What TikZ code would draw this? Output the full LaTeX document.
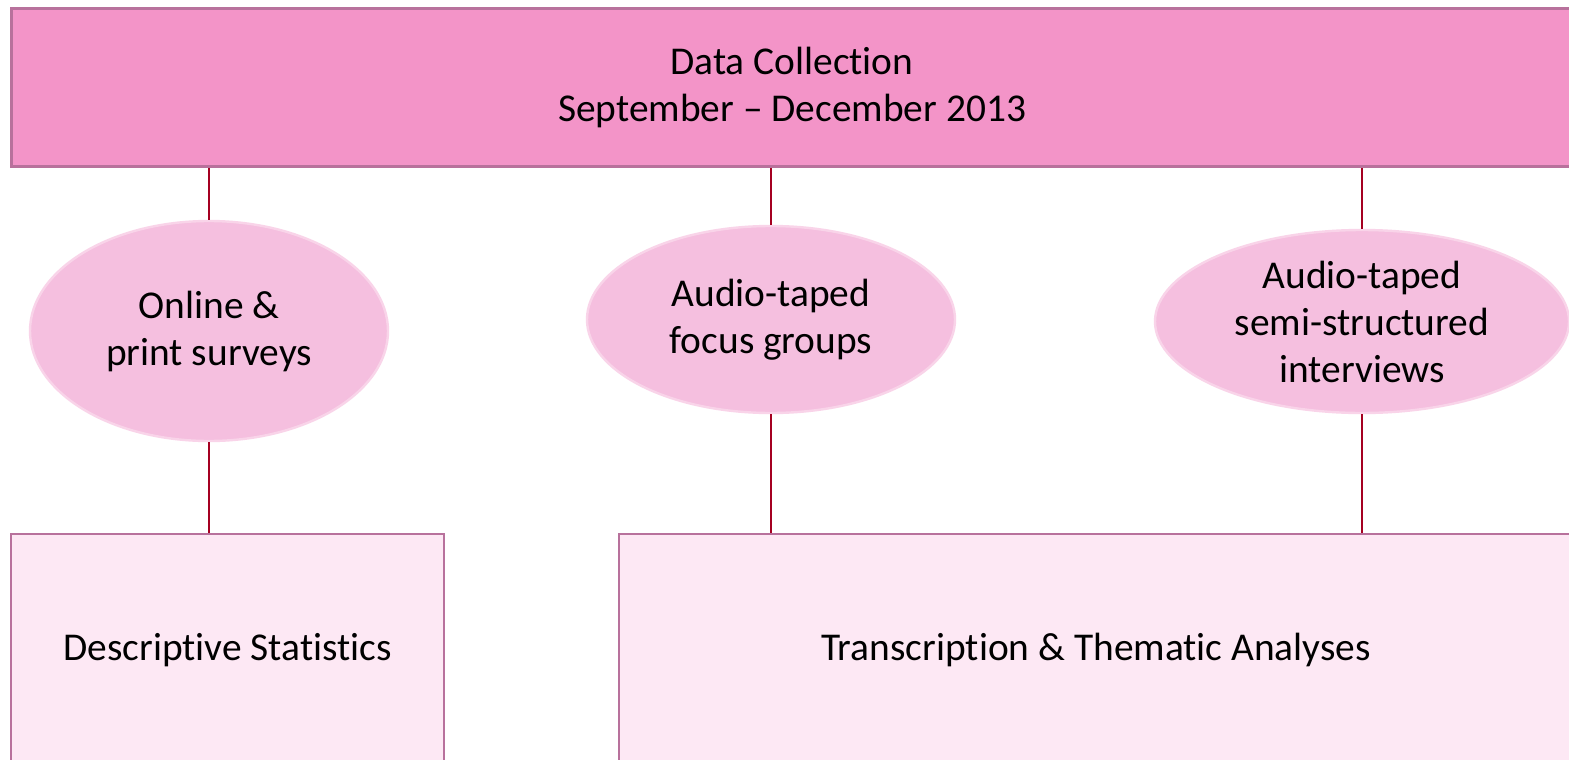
\documentclass[tikz,border=0pt]{standalone}
\usepackage{fontspec}
\setmainfont{Carlito}[RawFeature=-liga]
\usetikzlibrary{shapes.geometric}
\definecolor{topfill}{HTML}{F394C8}
\definecolor{topdraw}{HTML}{B8719C}
\definecolor{ellfill}{HTML}{F5BFDF}
\definecolor{elldraw}{HTML}{F9D4E9}
\definecolor{boxfill}{HTML}{FDE8F4}
\definecolor{boxdraw}{HTML}{B8719C}
\definecolor{conn}{HTML}{A50021}
\tikzset{
  topbox/.style={rectangle, fill=topfill, draw=topdraw, line width=1.5pt, inner sep=0pt, align=center},
  oval/.style={ellipse, fill=ellfill, draw=elldraw, line width=1.2pt, inner sep=0pt, align=center},
  resbox/.style={rectangle, fill=boxfill, draw=boxdraw, line width=1.3pt, inner sep=0pt, align=center},
  link/.style={draw=conn, line width=1.2pt},
  every node/.style={font=\fontsize{19.7pt}{23.5pt}\selectfont}
}
\begin{document}
\begin{tikzpicture}[x=0.5pt,y=-0.5pt]
\useasboundingbox (0,0) rectangle (1569,760);
\clip (0,0) rectangle (1569,760);
\fill[white] (0,0) rectangle (1569,760);
\node[topbox, minimum width=781pt, minimum height=79pt] (T) at (792,87) {Data Collection\\September -- December 2013};
\node[oval, minimum width=179pt, minimum height=110pt] (L) at (209,331) {Online \&\\print surveys};
\node[oval, minimum width=184pt, minimum height=93.5pt] (M) at (771,319.5) {Audio-taped\\focus groups};
\node[oval, minimum width=207pt, minimum height=91.5pt] (R) at (1362,321.5) {Audio-taped\\semi-structured\\interviews};
\node[resbox, minimum width=216.5pt, minimum height=116pt] (DS) at (227.5,650) {Descriptive Statistics};
\node[resbox, minimum width=477pt, minimum height=116pt] (TA) at (1096,650) {Transcription \& Thematic Analyses};
\draw[link] (L.north) -- (L.north |- T.south);
\draw[link] (M.north) -- (M.north |- T.south);
\draw[link] (R.north) -- (R.north |- T.south);
\draw[link] (L.south) -- (L.south |- DS.north);
\draw[link] (M.south) -- (M.south |- TA.north);
\draw[link] (R.south) -- (R.south |- TA.north);
\end{tikzpicture}
\end{document}
